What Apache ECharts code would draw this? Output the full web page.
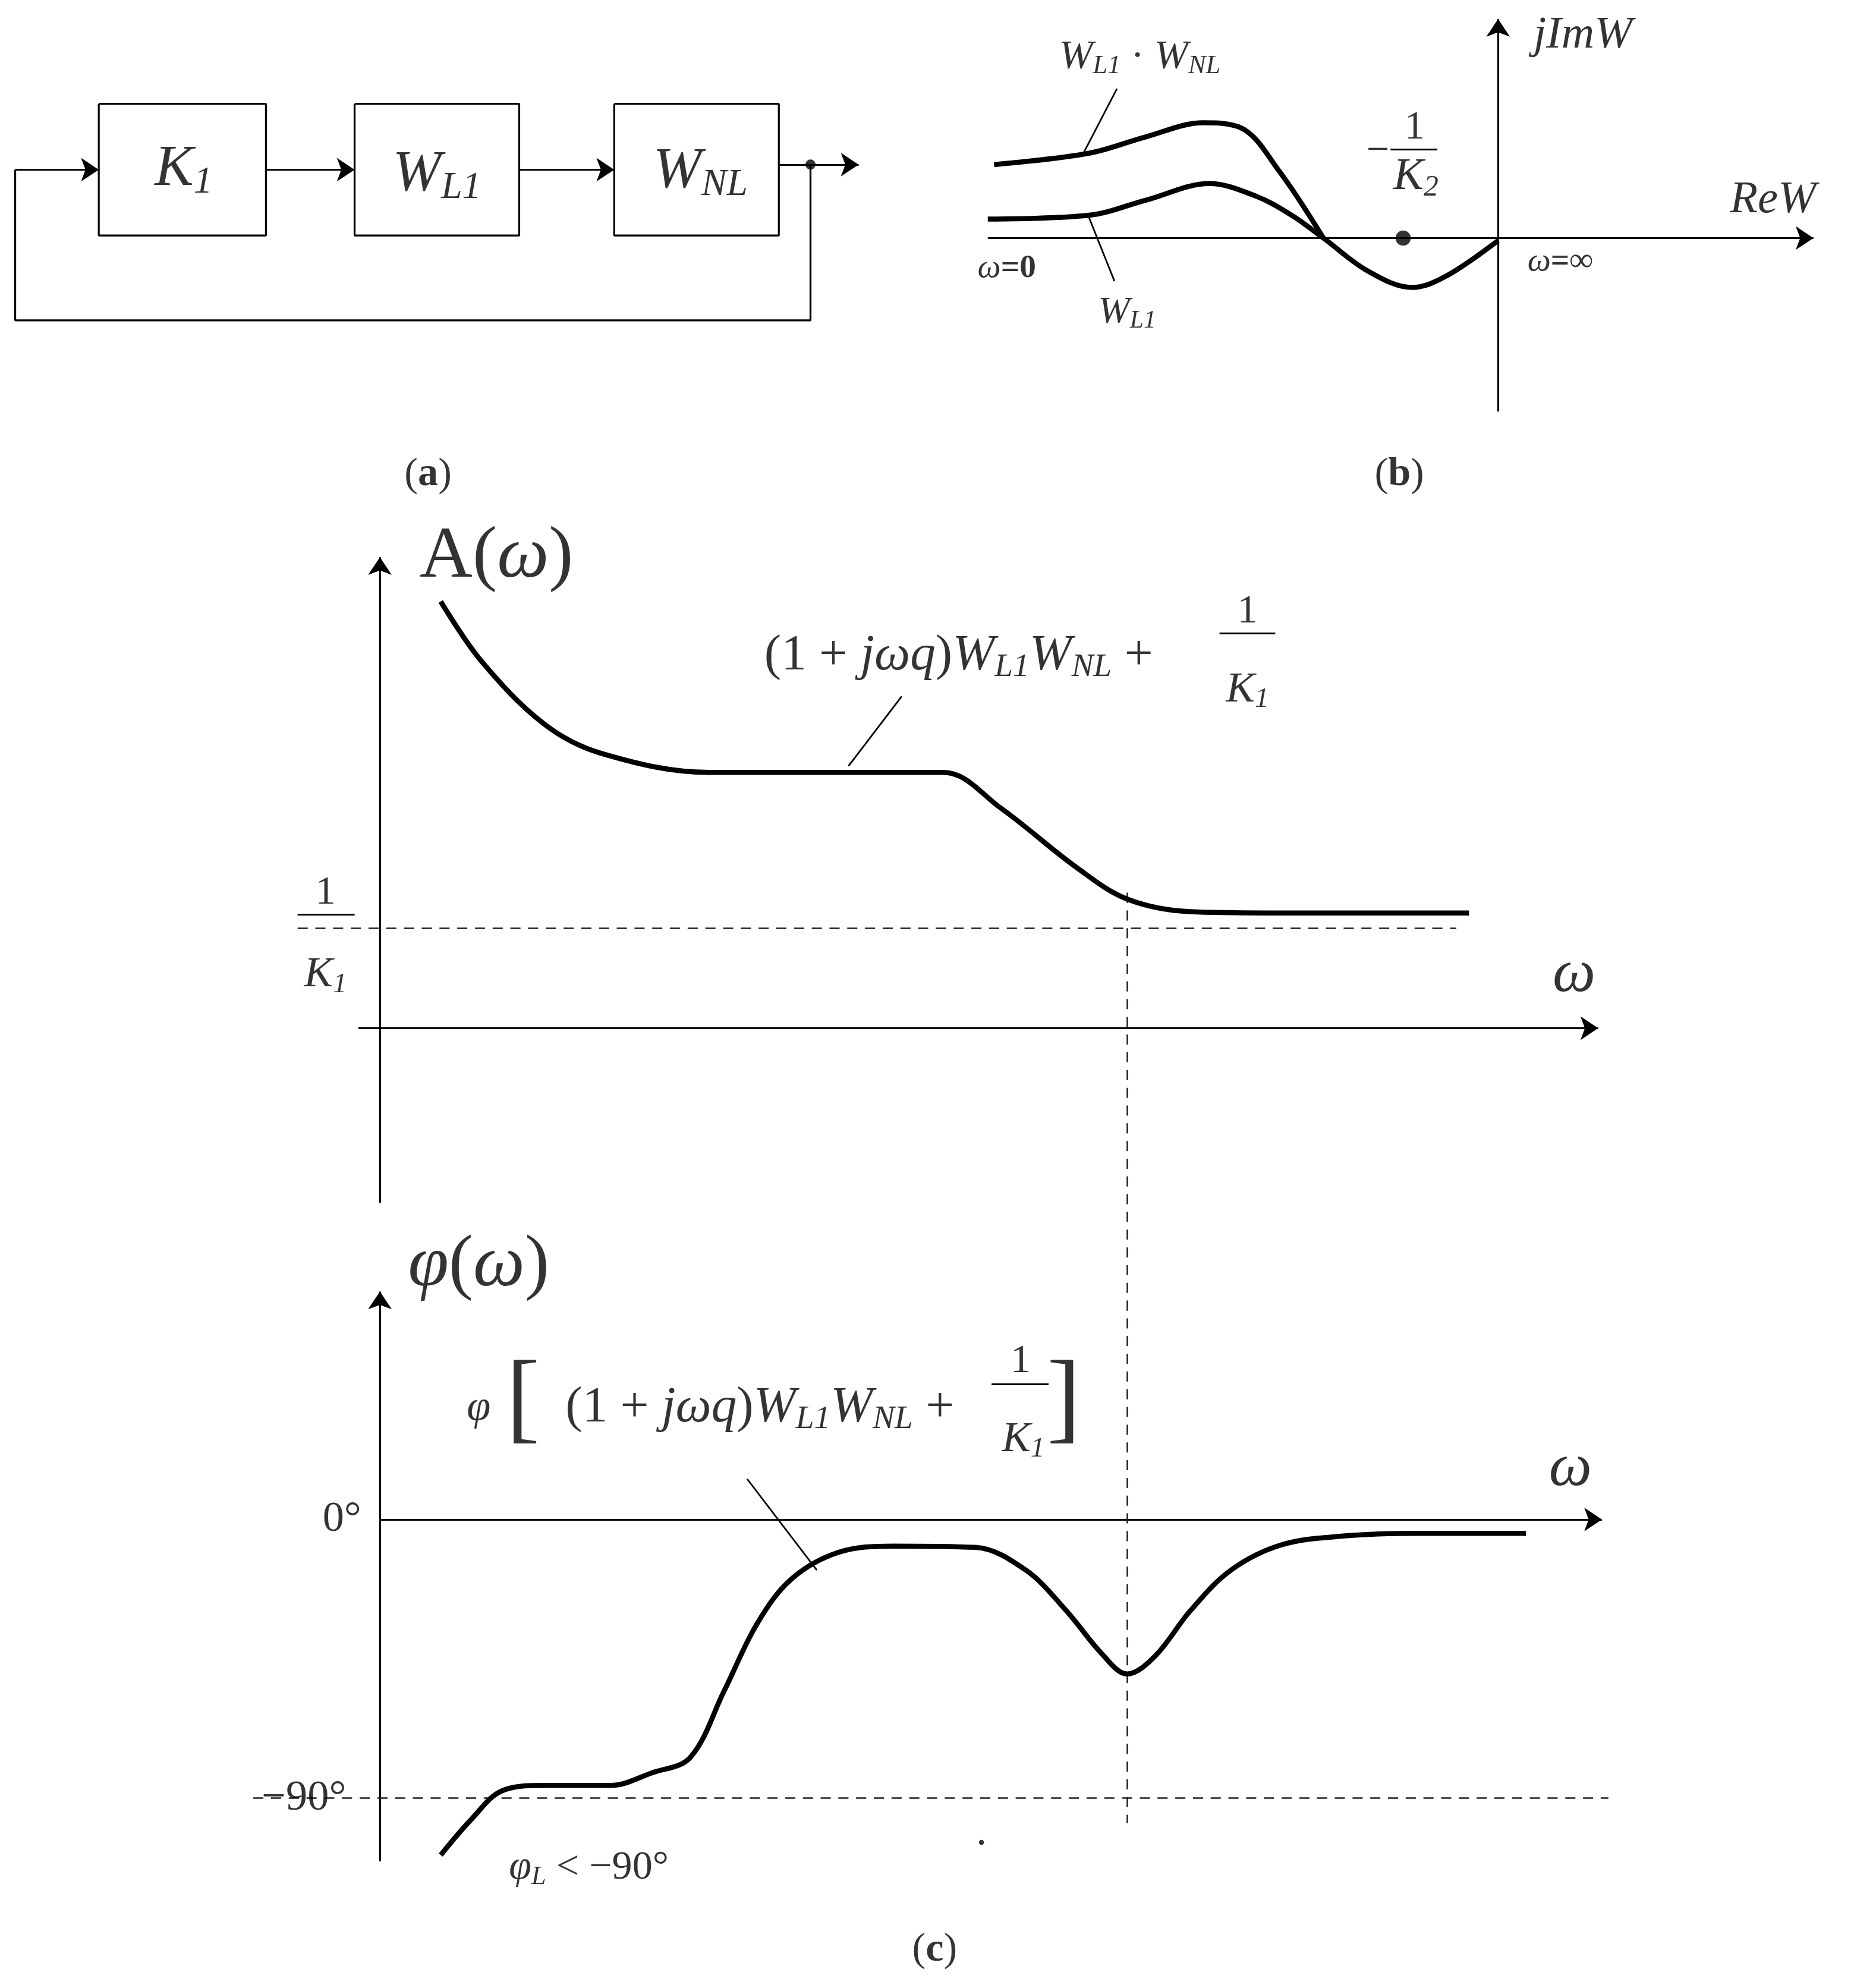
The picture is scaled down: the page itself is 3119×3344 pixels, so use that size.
<!DOCTYPE html>
<html><head><meta charset="utf-8">
<script src="https://cdn.jsdelivr.net/npm/echarts@6/dist/echarts.min.js"></script>
<style>html,body{margin:0;padding:0;background:#fff}#c{width:3119px;height:3344px}</style>
</head><body><div id="c"></div>
<script>
const S = 3119/1464;
// curves (display units, y downward)
const curveA = [[348,475],[380,522],[430,572],[475,595],[560,610],[745,610],[790,638],[850,685],[890,710],[940,720],[1000,721],[1160,721]];
const curvePhi = [[348,1465],[372,1437],[397,1414],[430,1410],[482,1410],[515,1400],[545,1388],[572,1335],[598,1282],[625,1247],[662,1226],[705,1221],[770,1222],[810,1240],[842,1272],[870,1306],[890,1322],[912,1308],[940,1272],[972,1240],[1012,1220],[1062,1213],[1120,1211],[1205,1211]];
const curveWL1 = [[780,173],[860,170],[905,158],[955,145],[992,155],[1020,170],[1045,188],[1080,214],[1115,227],[1142,218],[1183,190]];
const curveWLNL = [[785,130],[860,121],[905,108],[950,97],[980,101],[1010,135],[1045,188]];
const boxK1 = [[78,82],[210,82],[210,186],[78,186],[78,82]];
const boxWL1 = [[280,82],[410,82],[410,186],[280,186],[280,82]];
const boxWNL = [[485,82],[615,82],[615,186],[485,186],[485,82]];
const feedback = [[640,130],[640,253],[12,253],[12,134]];
const arrows = [
 [[300,950],[300,440]], [[283,812],[1262,812]],
 [[300,1470],[300,1020]], [[300,1200],[1265,1200]],
 [[1183,325],[1183,15]], [[780,188],[1432,188]],
 [[210,134],[280,134]], [[410,134],[485,134]], [[615,130],[678,130]], [[12,134],[78,134]]
];
const dashed = [ [[235,733],[1150,733]], [[890,705],[890,1440]], [[200,1420],[1270,1420]] ];
const thin = [ [[670,605],[712,550]], [[645,1240],[590,1168]], [[855,122],[882,70]], [[860,172],[880,222]],
 [[1098,118],[1135,118]], [[235,722],[280,722]], [[963,500],[1007,500]], [[783,1093],[828,1093]] ];
const dots = [[1108,188,6],[640,130,4],[775,1455,2]];
// texts: x, y, rich text, font size
const texts = [
 [145,134,'{i|K}{s|1}',46],[345,138,'{i|W}{s|L1}',46],[553,136,'{i|W}{s|NL}',46],
 [338,375,'{n|(}{b|a}{n|)}',32],[1105,375,'{n|(}{b|b}{n|)}',32],[738,1540,'{n|(}{b|c}{n|)}',32],
 [900,45,'{i|W}{s|L1}{n| · }{i|W}{s|NL}',32],
 [1088,120,'{n|−}',32],[1117,101,'{n|1}',32],[1118,140,'{i|K}{s|2}',36],
 [1400,158,'{i|ReW}',36],[1250,28,'{i|jImW}',36],
 [795,212,'{i|ω}{b|=0}',26],[1232,207,'{i|ω}{b|=∞}',26],[890,247,'{i|W}{s|L1}',30],
 [392,440,'{n|A(}{i|ω}{n|)}',58],
 [757,518,'{n|(1 + }{i|jωq}{n|)}{i|W}{s|L1}{i|W}{s|NL}{n| +}',40],[985,483,'{n|1}',32],[985,545,'{i|K}{s|1}',34],
 [257,705,'{n|1}',32],[257,770,'{i|K}{s|1}',34],
 [1243,770,'{i|ω}',48],[1240,1160,'{i|ω}',48],
 [378,1000,'{i|φ}{n|(}{i|ω}{n|)}',58],
 [270,1200,'{n|0°}',34],[240,1420,'{n|−90°}',34],
 [465,1475,'{i|φ}{s|L}{n| < −90°}',32],
 [378,1112,'{i|φ}',34],[413,1108,'{n|[}',80],
 [600,1112,'{n|(1 + }{i|jωq}{n|)}{i|W}{s|L1}{i|W}{s|NL}{n| +}',40],[806,1075,'{n|1}',32],[808,1137,'{i|K}{s|1}',34],[840,1108,'{n|]}',80]
];
function rich(sz){
 const f='Liberation Serif';
 return {
  i:{fontFamily:f,fontStyle:'italic',fontSize:sz*S,color:'#000'},
  n:{fontFamily:f,fontSize:sz*S,color:'#000'},
  b:{fontFamily:f,fontWeight:'bold',fontSize:sz*S,color:'#000'},
  s:{fontFamily:f,fontStyle:'italic',fontSize:sz*0.65*S,color:'#000',verticalAlign:'bottom',padding:[sz*0.45*S,0,0,0]}
 };
}
const series = [];
const thick = {color:'#000',width:4*S};
[curveA,curvePhi,curveWL1,curveWLNL].forEach(c=>series.push({type:'line',data:c,smooth:0.35,showSymbol:false,lineStyle:thick,silent:true}));
[boxK1,boxWL1,boxWNL,feedback].forEach(c=>series.push({type:'line',data:c,showSymbol:false,lineStyle:{color:'#000',width:1.5*S},silent:true}));
series.push({type:'lines',coordinateSystem:'cartesian2d',symbol:['none','arrow'],symbolSize:[9*S,14*S],
 lineStyle:{color:'#000',width:1.5*S,opacity:1},data:arrows.map(a=>({coords:a})),silent:true});
series.push({type:'lines',coordinateSystem:'cartesian2d',lineStyle:{color:'#222',width:1.2*S,type:[8*S,6*S],opacity:1},data:dashed.map(a=>({coords:a})),silent:true});
series.push({type:'lines',coordinateSystem:'cartesian2d',lineStyle:{color:'#000',width:1.3*S,opacity:1},data:thin.map(a=>({coords:a})),silent:true});
series.push({type:'scatter',data:dots.map(d=>[d[0],d[1]]),symbolSize:p=>dots.find(d=>d[0]===p[0])[2]*2*S,itemStyle:{color:'#000'},silent:true});
series.push({type:'scatter',symbolSize:0,silent:true,data:texts.map(t=>({value:[t[0],t[1]],label:{show:true,position:'inside',color:'#000',formatter:t[2],rich:rich(t[3])}}))});
const chart = echarts.init(document.getElementById('c'));
chart.setOption({animation:false,backgroundColor:'#fff',
 grid:{left:0,right:0,top:0,bottom:0},
 xAxis:{type:'value',min:0,max:1464,show:false},
 yAxis:{type:'value',min:0,max:1570,inverse:true,show:false},
 series});
</script></body></html>
